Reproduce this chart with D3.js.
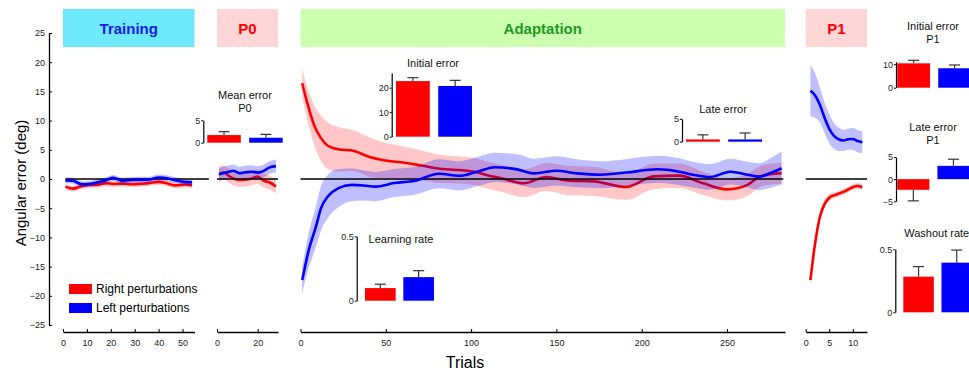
<!DOCTYPE html>
<html>
<head>
<meta charset="utf-8">
<script src="https://cdn.jsdelivr.net/npm/d3@7"></script>
<style>
body { margin: 0; background: #fff; }
svg { font-family: "Liberation Sans", Arial, sans-serif; }
</style>
</head>
<body>
<svg width="969" height="371"></svg>
<script>
// ---- data ----
var groups = ["Right perturbations", "Left perturbations"];
var colors = ["#ff0000", "#0000ff"];

var trainTrials = [1,4,8,11,14,18,21,25,29,33,36,40,44,47,51,54];
var trainRight = [-1.3,-1.65,-1.2,-1.0,-1.0,-0.7,-0.85,-0.8,-0.9,-0.8,-0.7,-0.5,-0.8,-1.1,-0.95,-1.05];
var trainLeft = [-0.25,-0.3,-0.9,-0.85,-0.6,-0.2,0.2,-0.3,-0.15,-0.1,-0.1,0.25,0.1,-0.2,-0.5,-0.55];
var trainRightSe = [0.5,0.5,0.5,0.5,0.5,0.5,0.5,0.5,0.5,0.5,0.5,0.5,0.5,0.5,0.5,0.5];
var trainLeftSe = [0.5,0.5,0.5,0.5,0.5,0.5,0.5,0.5,0.5,0.5,0.5,0.5,0.5,0.5,0.5,0.5];

var p0Trials = [1,3,6,8,11,14,17,20,23,26,29];
var p0Right = [0.7,1.15,0.5,0.1,-0.15,-0.1,0.1,0.4,-0.3,-0.6,-1.3];
var p0Left = [0.85,1.0,1.25,1.4,1.0,1.15,1.25,1.1,1.4,2.0,2.2];
var p0RightSe = [1.2,1.2,1.2,1.2,1.2,1.2,1.2,1.2,1.2,1.2,1.2];
var p0LeftSe = [1.1,1.1,1.1,1.1,1.1,1.1,1.1,1.1,1.1,1.1,1.1];

var adaptRightTrials = [1,4,8,12,16,22,31,40,48,59,71,83,95,102,110,117,131,144,156,172,191,207,222,236,250,262,269,275,282];
var adaptRight = [16.4,13.0,9.2,7.0,5.7,5.1,4.85,3.8,3.25,2.86,2.3,1.7,1.5,1.25,0.6,0.17,-0.74,0.34,-0.23,-0.4,-1.37,0.45,0.57,-0.74,-1.77,-1.0,0.4,0.8,1.0];
var adaptRightSe = [2.4,2.8,3.4,3.9,4.0,3.8,3.5,3.4,3.1,2.8,2.6,2.4,2.3,2.3,2.3,2.3,2.4,2.4,2.5,2.5,2.2,2.2,2.1,2.0,1.9,1.9,1.8,1.8,1.8];
var adaptLeftTrials = [1,5,9,12,16,22,30,37,44,55,67,81,93,104,114,127,137,150,162,176,191,209,222,230,240,252,262,269,275,282];
var adaptLeft = [-17.3,-12.0,-8.2,-5.0,-3.0,-1.6,-1.0,-1.1,-1.3,-0.7,-0.3,0.9,0.55,1.3,2.0,1.65,0.97,1.4,0.97,0.74,1.1,1.66,1.25,0.74,0.34,1.25,0.74,0.4,0.97,1.85];
var adaptLeftSe = [2.3,3.0,3.5,3.8,3.7,3.3,2.8,2.6,2.5,2.4,2.4,2.5,2.5,2.5,2.5,2.6,2.5,2.5,2.4,2.3,2.3,2.3,2.3,2.2,2.2,2.2,2.2,2.3,2.5,2.8];

var p1Trials = [1,2,3,4,5,6,7,8,9,10,11,12];
var p1Right = [-17.3,-11.0,-6.5,-4.3,-3.2,-2.8,-2.5,-2.2,-1.8,-1.4,-1.2,-1.4];
var p1RightSe = [0.9,0.8,0.8,0.7,0.6,0.5,0.5,0.5,0.5,0.5,0.5,0.5];
var p1Left = [15.1,14.3,12.7,10.5,8.6,7.4,6.8,6.6,6.8,6.85,6.5,6.3];
var p1LeftSe = [4.4,3.8,3.0,2.6,2.5,2.2,2.0,1.8,1.8,1.9,1.9,1.9];

// bar insets: [right, left]
var meanErrP0 = [1.7, 1.1], meanErrP0Se = [0.75, 0.75];
var initErr = [22.7, 20.7], initErrSe = [1.4, 2.3];
var lateErr = [0.5, 0.5], lateErrSe = [1.0, 1.4];
var learnRate = [0.098, 0.183], learnRateSe = [0.03, 0.05];
var initErrP1 = [10.4, 8.3], initErrP1Se = [1.3, 1.4];
var lateErrP1 = [-2.4, 3.0], lateErrP1Se = [2.5, 1.5];
var washout = [0.283, 0.394], washoutSe = [0.08, 0.1];

var yTicks = [-25,-20,-15,-10,-5,0,5,10,15,20,25];

// ---- drawing ----
var svg = d3.select("svg");
var y = d3.scaleLinear().domain([-25, 25]).range([325, 33]);
var fmt = d3.format("~g");

function pts(t, m, s) {
  return t.map(function(d, i) { return {t: d, m: m[i], s: s[i]}; });
}

var panels = [
  {name: "Training", dom: [0, 55], rng: [63, 194.5], zero: [1, 61], ticks: [0,10,20,30,40,50],
   box: "#6ee8fb", txt: "#1a1aee",
   series: [pts(trainTrials, trainRight, trainRightSe), pts(trainTrials, trainLeft, trainLeftSe)]},
  {name: "P0", dom: [0, 30], rng: [217, 278], zero: [0, 30], ticks: [0,20],
   box: "#ffd6d6", txt: "#ff0000",
   series: [pts(p0Trials, p0Right, p0RightSe), pts(p0Trials, p0Left, p0LeftSe)]},
  {name: "Adaptation", dom: [0, 284], rng: [300.5, 785], zero: [0, 283], ticks: [0,50,100,150,200,250],
   box: "#ccffb0", txt: "#1e9a1e",
   series: [pts(adaptRightTrials, adaptRight, adaptRightSe), pts(adaptLeftTrials, adaptLeft, adaptLeftSe)]},
  {name: "P1", dom: [0, 13], rng: [805.7, 867], zero: [0, 13], ticks: [0,5,10],
   box: "#ffd6d6", txt: "#ff0000",
   series: [pts(p1Trials, p1Right, p1RightSe), pts(p1Trials, p1Left, p1LeftSe)]}
];

function drawPanel(p) {
  var x = d3.scaleLinear().domain(p.dom).range(p.rng);
  var g = svg.append("g");

  g.append("rect")
    .attr("x", p.rng[0]).attr("y", 9)
    .attr("width", p.rng[1] - p.rng[0]).attr("height", 38)
    .attr("fill", p.box);
  g.append("text")
    .attr("x", (p.rng[0] + p.rng[1]) / 2).attr("y", 28)
    .attr("text-anchor", "middle").attr("dominant-baseline", "central")
    .attr("font-size", 15).attr("font-weight", "bold")
    .attr("fill", p.txt).text(p.name);

  var area = d3.area().curve(d3.curveMonotoneX)
    .x(function(d) { return x(d.t); })
    .y0(function(d) { return y(d.m - d.s); })
    .y1(function(d) { return y(d.m + d.s); });
  var line = d3.line().curve(d3.curveMonotoneX)
    .x(function(d) { return x(d.t); })
    .y(function(d) { return y(d.m); });

  // red band + line, blue band, zero line, blue line
  g.append("path").attr("d", area(p.series[0])).attr("fill", "rgba(255,0,0,0.22)");
  g.append("path").attr("d", line(p.series[0])).attr("fill", "none")
    .attr("stroke", colors[0]).attr("stroke-width", 2.6);
  g.append("path").attr("d", area(p.series[1])).attr("fill", "rgba(0,0,255,0.25)");
  g.append("line")
    .attr("x1", x(p.zero[0])).attr("x2", x(p.zero[1]))
    .attr("y1", y(0)).attr("y2", y(0))
    .attr("stroke", "#000").attr("stroke-width", 1.3);
  g.append("path").attr("d", line(p.series[1])).attr("fill", "none")
    .attr("stroke", colors[1]).attr("stroke-width", 2.6);

  var ax = g.append("g").attr("transform", "translate(0,332)")
    .call(d3.axisBottom(x).tickValues(p.ticks).tickSize(-3).tickSizeOuter(0).tickPadding(8));
  ax.select(".domain").attr("stroke", "#000").attr("stroke-width", 1.3);
  ax.selectAll("text").attr("font-size", 9).attr("fill", "#222");
  ax.selectAll(".tick line").attr("stroke", "#000");
}

panels.forEach(drawPanel);

// y axis
var yAx = svg.append("g").attr("transform", "translate(49,0)")
  .call(d3.axisLeft(y).tickValues(yTicks).tickSize(-3).tickSizeOuter(0).tickPadding(4));
yAx.select(".domain").attr("stroke", "#000").attr("stroke-width", 1.3);
yAx.selectAll("text").attr("font-size", 9).attr("fill", "#222");

svg.append("text")
  .attr("transform", "translate(20,183) rotate(-90)")
  .attr("text-anchor", "middle").attr("dominant-baseline", "central")
  .attr("font-size", 15).text("Angular error (deg)");

svg.append("text")
  .attr("x", 465).attr("y", 362)
  .attr("text-anchor", "middle").attr("dominant-baseline", "central")
  .attr("font-size", 16).text("Trials");

// legend
groups.forEach(function(name, i) {
  svg.append("rect").attr("x", 69).attr("y", 284 + i * 19)
    .attr("width", 23).attr("height", 10).attr("fill", colors[i]);
  svg.append("text").attr("x", 96).attr("y", 289 + i * 19)
    .attr("dominant-baseline", "central").attr("font-size", 12).text(name);
});

// bar insets
var insets = [
  {vals: meanErrP0, se: meanErrP0Se, axisX: 203.3, bars: [207.3, 282.7], dom: [0, 5], rng: [142.7, 120.2],
   ticks: [0, 5], title: ["Mean error", "P0"], tx: 245, ty: 95},
  {vals: initErr, se: initErrSe, axisX: 391.7, bars: [396, 472], dom: [0, 26], rng: [136.7, 73],
   ticks: [0, 10, 20], title: ["Initial error"], tx: 433, ty: 63},
  {vals: lateErr, se: lateErrSe, axisX: 682, bars: [686, 762], dom: [0, 5], rng: [141.7, 118.8],
   ticks: [0, 5], title: ["Late error"], tx: 723, ty: 109},
  {vals: learnRate, se: learnRateSe, axisX: 356.7, bars: [365, 434], dom: [0, 0.5], rng: [300.7, 236.3],
   ticks: [0, 0.5], title: ["Learning rate"], tx: 401, ty: 239},
  {vals: initErrP1, se: initErrP1Se, axisX: 896, bars: [897.3, 971], dom: [0, 11.1], rng: [87.7, 61.7],
   ticks: [0, 10], title: ["Initial error", "P1"], tx: 933, ty: 26},
  {vals: lateErrP1, se: lateErrP1Se, axisX: 896, bars: [897.3, 969.5], dom: [-5, 5], rng: [201.3, 157],
   ticks: [-5, 0, 5], title: ["Late error", "P1"], tx: 933, ty: 126.7},
  {vals: washout, se: washoutSe, axisX: 895.3, bars: [903.3, 972], dom: [0, 0.5], rng: [312.3, 249.3],
   ticks: [0, 0.5], title: ["Washout rate"], tx: 936.7, ty: 233.3}
];

function drawInset(o) {
  var yy = d3.scaleLinear().domain(o.dom).range(o.rng);
  var xb = d3.scaleBand().domain(groups).range(o.bars).paddingInner(0.2).paddingOuter(0);
  var g = svg.append("g");

  o.title.forEach(function(s, i) {
    g.append("text").attr("x", o.tx).attr("y", o.ty + i * 13.3)
      .attr("text-anchor", "middle").attr("dominant-baseline", "central")
      .attr("font-size", 11).attr("fill", "#111").text(s);
  });

  groups.forEach(function(k, i) {
    var v = o.vals[i], e = o.se[i];
    var top = Math.min(yy(0), yy(v));
    g.append("rect")
      .attr("x", xb(k)).attr("y", top)
      .attr("width", xb.bandwidth()).attr("height", Math.abs(yy(v) - yy(0)))
      .attr("fill", colors[i]);
    var cx = xb(k) + xb.bandwidth() / 2;
    var tip = v >= 0 ? v + e : v - e;
    g.append("line").attr("x1", cx).attr("x2", cx)
      .attr("y1", yy(v)).attr("y2", yy(tip))
      .attr("stroke", "#333").attr("stroke-width", 1.2);
    g.append("line").attr("x1", cx - 5.5).attr("x2", cx + 5.5)
      .attr("y1", yy(tip)).attr("y2", yy(tip))
      .attr("stroke", "#333").attr("stroke-width", 1.2);
  });

  var ax = g.append("g").attr("transform", "translate(" + o.axisX + ",0)")
    .call(d3.axisLeft(yy).tickValues(o.ticks).tickFormat(fmt).tickSize(2).tickSizeOuter(0).tickPadding(1));
  ax.select(".domain").attr("stroke", "#000").attr("stroke-width", 1.2);
  ax.selectAll("text").attr("font-size", 9).attr("fill", "#222");
}

insets.forEach(drawInset);
</script>
</body>
</html>
